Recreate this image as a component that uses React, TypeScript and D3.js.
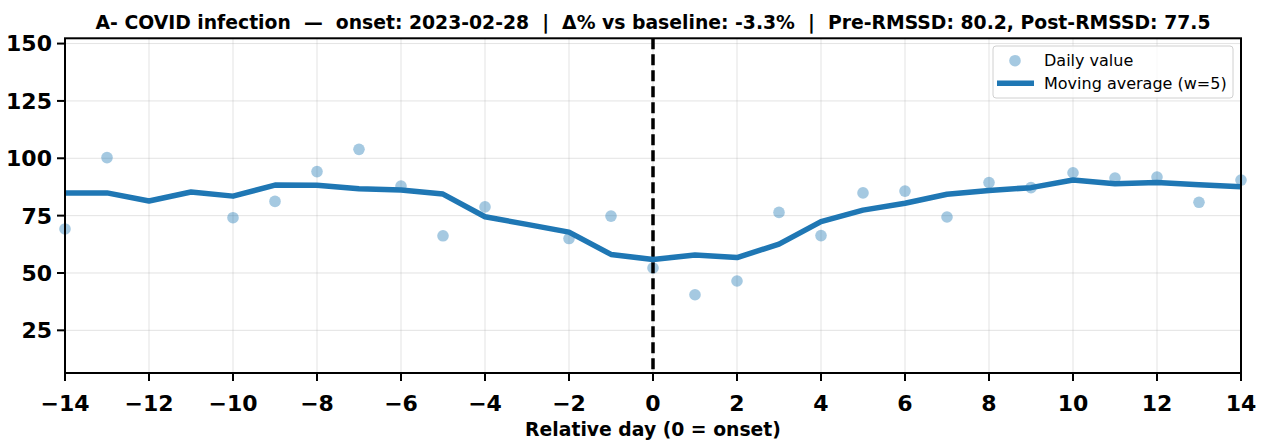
import * as d3 from 'd3';

const days = d3.range(-14, 15);

// null = no marker visible in the reference on that day
const dailyValues: (number | null)[] = [
  69.2, 100.3, null, null, 74.1, 81.2, 94.2, 103.9, 87.9, 66.2,
  78.8, null, 65.0, 74.8, 52.2, 40.5, 46.5, 76.4, 66.3, 84.9,
  85.7, 74.4, 89.4, 87.2, 93.7, 91.4, 91.8, 80.8, 90.5,
];

const movingAvg = [
  84.9, 84.9, 81.4, 85.3, 83.5, 88.3, 88.2, 86.7, 86.2, 84.4,
  74.5, 71.2, 67.8, 58.1, 55.9, 57.8, 56.7, 62.6, 72.4, 77.4,
  80.4, 84.3, 86.0, 87.2, 90.5, 88.9, 89.4, 88.5, 87.6,
];

const xTicks = [-14, -12, -10, -8, -6, -4, -2, 0, 2, 4, 6, 8, 10, 12, 14];
const yTicks = [25, 50, 75, 100, 125, 150];

const title =
  'A- COVID infection  \u2014  onset: 2023-02-28  |  \u0394% vs baseline: -3.3%  |  Pre-RMSSD: 80.2, Post-RMSSD: 77.5';

const W = 1268;
const H = 447;
const left = 65;
const right = 1241;
const top = 38.3;
const bottom = 373;
const blue = '#1f77b4';
const font = '"DejaVu Sans", sans-serif';

export default function App() {
  const x = d3.scaleLinear().domain([-14, 14]).range([left, right]);
  const y = d3.scaleLinear().domain([6.4, 152.3]).range([bottom, top]);

  const line = d3
    .line<number>()
    .x((_, i) => x(days[i]))
    .y(d => y(d));

  return (
    <svg
      width={W}
      height={H}
      style={{ position: 'absolute', left: 0, top: 0, background: '#fff' }}
      fontFamily={font}
    >
      <rect x={0} y={0} width={W} height={H} fill="#fff" />

      {/* grid */}
      <g stroke="#b0b0b0" strokeOpacity={0.35} strokeWidth={1}>
        {xTicks.map(t => (
          <line key={'gx' + t} x1={x(t)} x2={x(t)} y1={top} y2={bottom} />
        ))}
        {yTicks.map(t => (
          <line key={'gy' + t} x1={left} x2={right} y1={y(t)} y2={y(t)} />
        ))}
      </g>

      {/* daily points */}
      <g fill={blue} fillOpacity={0.4}>
        {dailyValues.map((v, i) =>
          v === null ? null : <circle key={i} cx={x(days[i])} cy={y(v)} r={5.8} />
        )}
      </g>

      {/* onset marker */}
      <line
        x1={x(0)}
        x2={x(0)}
        y1={top}
        y2={bottom}
        stroke="#000"
        strokeWidth={3.5}
        strokeDasharray="11,5"
      />

      {/* moving average */}
      <path
        d={line(movingAvg) ?? ''}
        fill="none"
        stroke={blue}
        strokeWidth={5.5}
        strokeLinejoin="round"
      />

      {/* frame */}
      <rect
        x={left}
        y={top}
        width={right - left}
        height={bottom - top}
        fill="none"
        stroke="#000"
        strokeWidth={2}
      />

      {/* y axis */}
      <g>
        {yTicks.map(t => (
          <g key={'yt' + t}>
            <line x1={left - 8} x2={left} y1={y(t)} y2={y(t)} stroke="#000" strokeWidth={2} />
            <text
              x={left - 13}
              y={y(t)}
              dy="0.36em"
              textAnchor="end"
              fontSize={22}
              fontWeight="bold"
            >
              {t}
            </text>
          </g>
        ))}
      </g>

      {/* x axis */}
      <g>
        {xTicks.map(t => (
          <g key={'xt' + t}>
            <line x1={x(t)} x2={x(t)} y1={bottom} y2={bottom + 8} stroke="#000" strokeWidth={2} />
            <text x={x(t)} y={411} textAnchor="middle" fontSize={22} fontWeight="bold">
              {t < 0 ? '\u2212' + Math.abs(t) : t}
            </text>
          </g>
        ))}
        <text x={(left + right) / 2} y={436} textAnchor="middle" fontSize={18.8} fontWeight="bold">
          Relative day (0 = onset)
        </text>
      </g>

      {/* title */}
      <text
        x={(left + right) / 2}
        y={29}
        textAnchor="middle"
        fontSize={18.8}
        fontWeight="bold"
        style={{ whiteSpace: 'pre' }}
      >
        {title}
      </text>

      {/* legend */}
      <g>
        <rect
          x={993}
          y={46}
          width={240}
          height={52}
          rx={3}
          fill="#fff"
          fillOpacity={0.8}
          stroke="#d0d0d0"
          strokeWidth={1}
        />
        <circle cx={1015} cy={60.7} r={5.8} fill={blue} fillOpacity={0.4} />
        <text x={1044} y={65.5} fontSize={16}>
          Daily value
        </text>
        <line x1={997} x2={1034} y1={83.3} y2={83.3} stroke={blue} strokeWidth={5.5} />
        <text x={1044} y={89} fontSize={16}>
          Moving average (w=5)
        </text>
      </g>
    </svg>
  );
}
